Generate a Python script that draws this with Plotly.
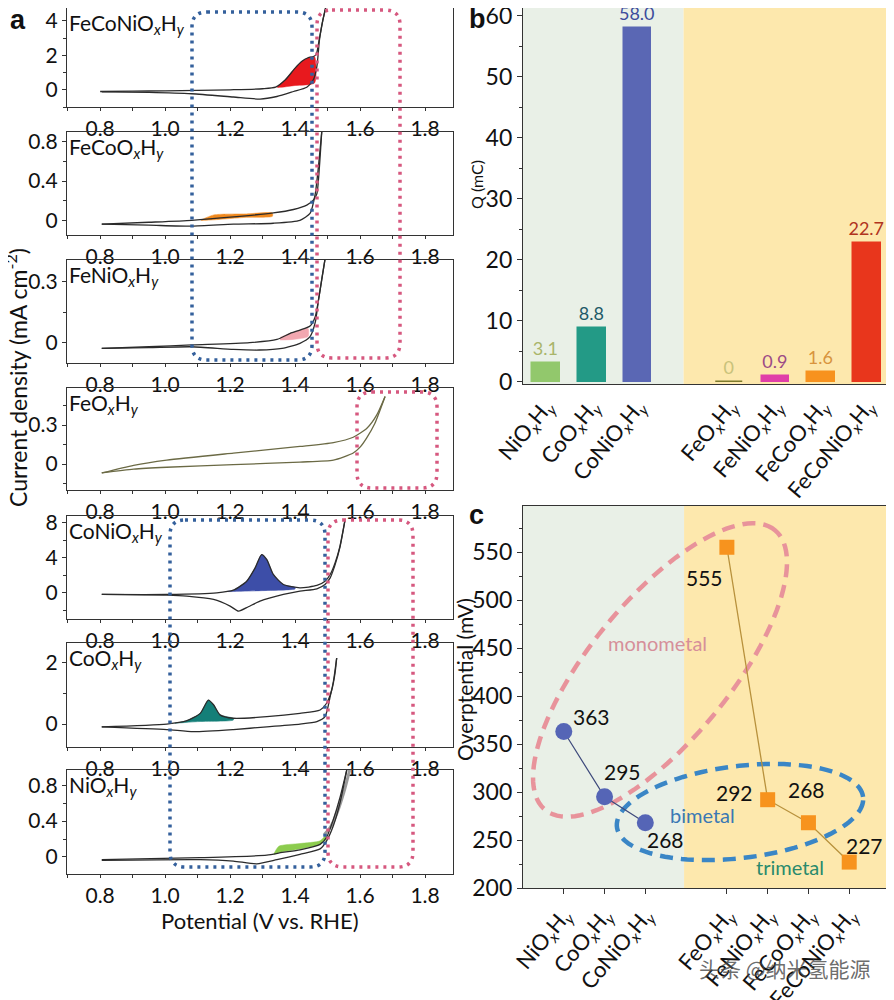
import numpy as np
import plotly.graph_objects as go

# the page adds an 8px body margin; the figure is sized so it fills the rest of the 894x1000 window
OFF = 8
W, H = 894 - OFF, 1000 - OFF
FONT = "Lato"

# ---------------- Panel a data (potential V vs RHE, current mA cm-2) ----------------
FECONI_E_AN = [0.80, 0.90, 1.00, 1.10, 1.20, 1.30, 1.34, 1.37, 1.40, 1.42, 1.44, 1.455, 1.465, 1.475, 1.485, 1.497]
FECONI_J_AN = [-0.10, -0.08, -0.06, -0.04, 0.00, 0.06, 0.15, 0.58, 1.26, 1.64, 1.86, 1.92, 2.05, 3.0, 4.0, 5.0]
FECONI_E_CA = [1.497, 1.485, 1.475, 1.467, 1.456, 1.436, 1.395, 1.344, 1.292, 1.21, 1.082, 0.95, 0.805]
FECONI_J_CA = [5.0, 4.0, 2.9, 1.35, 0.58, 0.15, -0.10, -0.39, -0.54, -0.42, -0.23, -0.15, -0.12]
FECONI_E_FILL = [1.345, 1.37, 1.40, 1.42, 1.44, 1.46, 1.46, 1.40, 1.345]
FECONI_J_FILL = [0.15, 0.58, 1.26, 1.64, 1.86, 1.92, 0.40, 0.25, 0.15]

FECO_E_AN = [0.805, 0.95, 1.082, 1.21, 1.333, 1.395, 1.436, 1.456, 1.467, 1.475, 1.482]
FECO_J_AN = [-0.04, -0.02, 0.0, 0.034, 0.075, 0.11, 0.154, 0.205, 0.27, 0.55, 0.90]
FECO_E_CA = [1.482, 1.472, 1.462, 1.446, 1.415, 1.333, 1.21, 1.082, 0.95, 0.805]
FECO_J_CA = [0.90, 0.55, 0.27, 0.07, 0.0, -0.03, -0.04, -0.06, -0.05, -0.04]
FECO_E_FILL = [1.11, 1.15, 1.25, 1.33, 1.33, 1.25, 1.15, 1.11]
FECO_J_FILL = [0.0, 0.055, 0.065, 0.075, 0.04, 0.03, 0.005, 0.0]

FENI_E_AN = [0.805, 0.95, 1.082, 1.26, 1.344, 1.385, 1.415, 1.446, 1.462, 1.472, 1.482, 1.492]
FENI_J_AN = [-0.028, -0.02, -0.011, 0.0, 0.016, 0.046, 0.062, 0.082, 0.128, 0.21, 0.31, 0.41]
FENI_E_CA = [1.492, 1.482, 1.472, 1.462, 1.446, 1.415, 1.36, 1.29, 1.21, 1.082, 0.95, 0.805]
FENI_J_CA = [0.41, 0.31, 0.21, 0.10, 0.03, -0.003, -0.028, -0.036, -0.033, -0.02, -0.024, -0.028]
FENI_E_FILL = [1.354, 1.385, 1.415, 1.44, 1.44, 1.395, 1.354]
FENI_J_FILL = [0.026, 0.046, 0.062, 0.07, 0.03, 0.016, 0.013]

FE_E_UP = [0.805, 0.903, 1.005, 1.21, 1.415, 1.518, 1.579, 1.621, 1.651, 1.677]
FE_J_UP = [-0.069, -0.01, 0.03, 0.084, 0.135, 0.165, 0.206, 0.275, 0.376, 0.52]
FE_E_LO = [0.805, 0.903, 1.005, 1.21, 1.415, 1.518, 1.579, 1.60, 1.62, 1.645, 1.677]
FE_J_LO = [-0.069, -0.04, -0.025, -0.005, 0.015, 0.03, 0.085, 0.13, 0.20, 0.31, 0.52]

CONI_E_AN = [0.805, 1.005, 1.159, 1.21, 1.251, 1.277, 1.297, 1.313, 1.333, 1.364, 1.415, 1.467, 1.492, 1.508, 1.523, 1.538, 1.554]
CONI_J_AN = [-0.19, -0.19, 0.0, 0.3, 1.33, 2.86, 4.38, 3.81, 2.1, 0.95, 0.57, 0.84, 1.33, 2.1, 3.43, 5.33, 8.4]
CONI_E_CA = [1.554, 1.538, 1.523, 1.508, 1.492, 1.467, 1.415, 1.364, 1.292, 1.256, 1.226, 1.20, 1.149, 1.067, 1.005, 0.805]
CONI_J_CA = [8.4, 5.2, 3.2, 1.71, 0.95, 0.46, 0.19, -0.19, -0.95, -1.6, -2.1, -1.52, -0.76, -0.38, -0.27, -0.19]
CONI_E_FILL = [1.19, 1.21, 1.251, 1.277, 1.297, 1.313, 1.333, 1.364, 1.40, 1.40, 1.30, 1.19]
CONI_J_FILL = [0.15, 0.3, 1.33, 2.86, 4.38, 3.81, 2.1, 0.95, 0.62, 0.45, 0.25, 0.15]

CO_E_AN = [0.805, 1.005, 1.067, 1.108, 1.133, 1.149, 1.169, 1.21, 1.313, 1.415, 1.477, 1.497, 1.513, 1.523, 1.528]
CO_J_AN = [-0.09, 0.0, 0.11, 0.35, 0.78, 0.63, 0.30, 0.19, 0.24, 0.35, 0.46, 0.68, 1.12, 1.67, 2.16]
CO_E_CA = [1.528, 1.518, 1.508, 1.492, 1.467, 1.415, 1.313, 1.21, 1.087, 1.005, 0.805]
CO_J_CA = [2.16, 1.4, 0.9, 0.24, 0.08, 0.0, -0.09, -0.18, -0.25, -0.18, -0.09]
CO_E_FILL = [1.03, 1.067, 1.108, 1.133, 1.149, 1.169, 1.21, 1.21, 1.10, 1.03]
CO_J_FILL = [0.03, 0.11, 0.35, 0.78, 0.63, 0.30, 0.19, 0.13, 0.08, 0.03]

NI_E_AN = [0.805, 1.108, 1.313, 1.36, 1.415, 1.477, 1.497, 1.518, 1.538, 1.559]
NI_J_AN = [-0.03, -0.008, 0.02, 0.05, 0.08, 0.14, 0.22, 0.42, 0.66, 0.97]
NI_E_CA = [1.559, 1.538, 1.518, 1.497, 1.477, 1.415, 1.344, 1.282, 1.21, 1.108, 0.805]
NI_J_CA = [0.97, 0.6, 0.35, 0.18, 0.09, 0.03, -0.03, -0.076, -0.046, -0.03, -0.038]
NI_E_FILL = [1.335, 1.35, 1.415, 1.477, 1.497, 1.497, 1.477, 1.415, 1.35, 1.335]
NI_J_FILL = [0.03, 0.12, 0.15, 0.18, 0.25, 0.20, 0.14, 0.09, 0.05, 0.03]
NI_E_GRAY = [1.49, 1.51, 1.53, 1.55, 1.568]
NI_J_GRAY = [0.25, 0.34, 0.5, 0.72, 0.97]

A_NAMES = ["FeCoNiO<sub><i>x</i></sub>H<sub><i>y</i></sub>", "FeCoO<sub><i>x</i></sub>H<sub><i>y</i></sub>",
           "FeNiO<sub><i>x</i></sub>H<sub><i>y</i></sub>", "FeO<sub><i>x</i></sub>H<sub><i>y</i></sub>",
           "CoNiO<sub><i>x</i></sub>H<sub><i>y</i></sub>", "CoO<sub><i>x</i></sub>H<sub><i>y</i></sub>",
           "NiO<sub><i>x</i></sub>H<sub><i>y</i></sub>"]
A_YRANGES = [[-1.0, 4.75], [-0.15, 0.9], [-0.1, 0.407], [-0.2, 0.585], [-3.0, 8.8], [-0.75, 2.65], [-0.19, 0.97]]
A_YTICKS = [[0, 2, 4], [0, 0.4, 0.8], [0, 0.3], [0, 0.3], [0, 4, 8], [0, 2], [0, 0.4, 0.8]]
A_YMINOR = [1, 0.2, 0.15, 0.15, 2, 1, 0.2]
A_XTICKS = [0.8, 1.0, 1.2, 1.4, 1.6, 1.8]

# ---------------- Panel b data ----------------
CATS = ["NiO<sub><i>x</i></sub>H<sub><i>y</i></sub>", "CoO<sub><i>x</i></sub>H<sub><i>y</i></sub>",
        "CoNiO<sub><i>x</i></sub>H<sub><i>y</i></sub>", "FeO<sub><i>x</i></sub>H<sub><i>y</i></sub>",
        "FeNiO<sub><i>x</i></sub>H<sub><i>y</i></sub>", "FeCoO<sub><i>x</i></sub>H<sub><i>y</i></sub>",
        "FeCoNiO<sub><i>x</i></sub>H<sub><i>y</i></sub>"]
CAT_POS = [1, 2, 3, 5, 6, 7, 8]
Q_VALUES = [3.1, 8.8, 58.0, 0.0, 0.9, 1.6, 22.7]
Q_LABELS = ["3.1", "8.8", "58.0", "0", "0.9", "1.6", "22.7"]

# ---------------- Panel c data ----------------
ETA_MONO_BI = [363, 295, 268]          # NiOxHy, CoOxHy, CoNiOxHy
ETA_FE = [555, 292, 268, 227]          # FeOxHy, FeNiOxHy, FeCoOxHy, FeCoNiOxHy

# ---------------- styles ----------------
BAR_COLORS = ["#92c86c", "#239a86", "#5a67b4", "#7d7a2c", "#e03fa8", "#f7921e", "#e8361c"]
BAR_TEXT_COLORS = ["#a9b56a", "#1e5a68", "#3c4c9c", "#c9c27a", "#9c4a86", "#d8943e", "#b0341e"]
FILL_COLORS = ["#e8191e", "#f0891e", "#f2a7b0", None, "#3d4ea8", "#147f78", "#8ccc4e"]
LABEL_OFFSETS_C = [(28, 15), (18, 25), (20, -17), (-22, -30), (-33, 7), (-2, 33), (15, 17)]

A_TOPS = [8, 132, 260, 388, 516, 643, 770]
A_BOTTOMS = [107, 235, 363, 490, 619, 747, 874]
A_X0, A_X1 = 67, 453


def px(x):
    return (x - OFF) / W


def py(y):
    return min(1.0, max(0.0, 1 - (y - OFF) / H))


fig = go.Figure()

curves = [
    (FECONI_E_AN, FECONI_J_AN, FECONI_E_CA, FECONI_J_CA, FECONI_E_FILL, FECONI_J_FILL),
    (FECO_E_AN, FECO_J_AN, FECO_E_CA, FECO_J_CA, FECO_E_FILL, FECO_J_FILL),
    (FENI_E_AN, FENI_J_AN, FENI_E_CA, FENI_J_CA, FENI_E_FILL, FENI_J_FILL),
    (FE_E_UP, FE_J_UP, FE_E_LO, FE_J_LO, None, None),
    (CONI_E_AN, CONI_J_AN, CONI_E_CA, CONI_J_CA, CONI_E_FILL, CONI_J_FILL),
    (CO_E_AN, CO_J_AN, CO_E_CA, CO_J_CA, CO_E_FILL, CO_J_FILL),
    (NI_E_AN, NI_J_AN, NI_E_CA, NI_J_CA, NI_E_FILL, NI_J_FILL),
]

axis_common = dict(showline=True, linecolor="#333", linewidth=1.2, mirror=True, ticks="outside",
                   ticklen=4, tickcolor="#333", showgrid=False, zeroline=False, automargin=False,
                   ticklabeloverflow="allow",
                   tickfont=dict(family=FONT, size=21, color="#111"))

layout_axes = {}
annotations = []
for i, (ea, ja, ec, jc, ef, jf) in enumerate(curves):
    n = i + 1
    xa = "x" if n == 1 else f"x{n}"
    ya = "y" if n == 1 else f"y{n}"
    line_col = "#6b6a45" if i == 3 else "#2b2b2b"
    if ef is not None:
        fig.add_trace(go.Scatter(x=ef, y=jf, mode="lines", fill="toself", fillcolor=FILL_COLORS[i],
                                 line=dict(width=0.5, color=FILL_COLORS[i], shape="spline", smoothing=0.6),
                                 xaxis=xa, yaxis=ya, showlegend=False, hoverinfo="skip"))
    if i == 6:
        fig.add_trace(go.Scatter(x=NI_E_GRAY, y=NI_J_GRAY, mode="lines",
                                 line=dict(width=3, color="#9a9a9a", shape="spline"),
                                 xaxis=xa, yaxis=ya, showlegend=False))
    for ex, jy in ((ea, ja), (ec, jc)):
        fig.add_trace(go.Scatter(x=ex, y=jy, mode="lines",
                                 line=dict(width=1.3, color=line_col, shape="spline", smoothing=0.6),
                                 xaxis=xa, yaxis=ya, showlegend=False))
    key_x = "xaxis" if n == 1 else f"xaxis{n}"
    key_y = "yaxis" if n == 1 else f"yaxis{n}"
    layout_axes[key_x] = dict(axis_common, domain=[px(A_X0), px(A_X1)], anchor=ya, range=[0.698, 1.886],
                              tickvals=A_XTICKS, ticktext=[f"{v:.1f}" for v in A_XTICKS], ticklen=3,
                              minor=dict(dtick=0.1, tick0=0.8, ticks="outside", ticklen=3, tickcolor="#333"))
    layout_axes[key_y] = dict(axis_common, domain=[py(A_BOTTOMS[i]), py(A_TOPS[i])], anchor=xa,
                              range=A_YRANGES[i], tickvals=A_YTICKS[i],
                              ticktext=[("0" if v == 0 else (f"{v:g}")) for v in A_YTICKS[i]],
                              minor=dict(dtick=A_YMINOR[i], tick0=0, ticks="outside", ticklen=2.5, tickcolor="#333"))
    annotations.append(dict(text=A_NAMES[i], xref=f"{xa} domain", yref=f"{ya} domain", x=0.0, y=1.0,
                            xanchor="left", yanchor="top", showarrow=False,
                            font=dict(family=FONT, size=21, color="#111")))

# ---------------- Panel b ----------------
fig.add_trace(go.Bar(x=CAT_POS, y=Q_VALUES, width=0.6, marker=dict(color=BAR_COLORS, line=dict(color=BAR_COLORS, width=1.5)),
                     text=Q_LABELS, textposition="outside", textangle=0, constraintext="none",
                     textfont=dict(family=FONT, size=18, color=BAR_TEXT_COLORS), cliponaxis=False,
                     xaxis="x8", yaxis="y8", showlegend=False))

layout_axes["xaxis8"] = dict(axis_common, domain=[px(523), px(890)], anchor="y8", range=[0.5, 8.5],
                             tickvals=CAT_POS, ticktext=CATS, tickangle=-50, ticks="",
                             tickfont=dict(family=FONT, size=22, color="#111"))
layout_axes["yaxis8"] = dict(axis_common, domain=[py(384), py(8)], anchor="x8", range=[-0.35, 61.3],
                             tickvals=[0, 10, 20, 30, 40, 50, 60], ticklen=5,
                             minor=dict(dtick=5, tick0=0, ticks="outside", ticklen=3, tickcolor="#333"),
                             tickfont=dict(family=FONT, size=23, color="#111"))

# ---------------- Panel c ----------------
fig.add_trace(go.Scatter(x=CAT_POS[:3], y=ETA_MONO_BI, mode="lines+markers",
                         line=dict(color="#3e4a7c", width=1.2),
                         marker=dict(symbol="circle", size=17, color="#5565b6", line=dict(width=0)),
                         xaxis="x9", yaxis="y9", showlegend=False, cliponaxis=False))
fig.add_trace(go.Scatter(x=CAT_POS[3:], y=ETA_FE, mode="lines+markers",
                         line=dict(color="#b8913c", width=1.3),
                         marker=dict(symbol="square", size=15, color="#f7931e", line=dict(width=0)),
                         xaxis="x9", yaxis="y9", showlegend=False, cliponaxis=False))

layout_axes["xaxis9"] = dict(axis_common, domain=[px(523), px(890)], anchor="y9", range=[0, 9],
                             tickvals=CAT_POS, ticktext=CATS, tickangle=-50, ticklen=5,
                             tickfont=dict(family=FONT, size=22, color="#111"))
layout_axes["yaxis9"] = dict(axis_common, domain=[py(888), py(506)], anchor="x9", range=[200, 598],
                             tickvals=[200, 250, 300, 350, 400, 450, 500, 550], ticklen=5,
                             minor=dict(dtick=25, tick0=200, ticks="outside", ticklen=3, tickcolor="#333"),
                             tickfont=dict(family=FONT, size=23, color="#111"))

all_eta = ETA_MONO_BI + ETA_FE
for k, (xv, yv) in enumerate(zip(CAT_POS, all_eta)):
    dx, dy = LABEL_OFFSETS_C[k]
    annotations.append(dict(text=str(yv), x=xv, y=yv, xref="x9", yref="y9", xshift=dx, yshift=dy,
                            showarrow=False, font=dict(family=FONT, size=21, color="#111")))

# ---------------- shapes ----------------
shapes = []
for xr, yr, split, lo, hi in (("x8", "y8", 4.0, 0.5, 8.5), ("x9", "y9", 3.95, 0, 9)):
    shapes.append(dict(type="rect", xref=xr, yref=f"{yr} domain", x0=lo, x1=split, y0=0, y1=1,
                       fillcolor="#e9f0e7", line=dict(width=0), layer="below"))
    shapes.append(dict(type="rect", xref=xr, yref=f"{yr} domain", x0=split, x1=hi, y0=0, y1=1,
                       fillcolor="#fde8ad", line=dict(width=0), layer="below"))


def rrect_path(x0, y0, x1, y1, r):
    X = lambda v: f"{px(v):.5f}"
    Y = lambda v: f"{py(v):.5f}"
    return (f"M {X(x0 + r)},{Y(y0)} L {X(x1 - r)},{Y(y0)} Q {X(x1)},{Y(y0)} {X(x1)},{Y(y0 + r)} "
            f"L {X(x1)},{Y(y1 - r)} Q {X(x1)},{Y(y1)} {X(x1 - r)},{Y(y1)} "
            f"L {X(x0 + r)},{Y(y1)} Q {X(x0)},{Y(y1)} {X(x0)},{Y(y1 - r)} "
            f"L {X(x0)},{Y(y0 + r)} Q {X(x0)},{Y(y0)} {X(x0 + r)},{Y(y0)} Z")


BLUE_DOT = "#34609c"
PINK_DOT = "#d6587f"
boxes = [((192, 12, 312, 360), BLUE_DOT), ((317, 10, 400, 358), PINK_DOT), ((357, 392, 437, 488), PINK_DOT),
         ((170, 520, 325, 867), BLUE_DOT), ((328, 520, 413, 867), PINK_DOT)]
for (x0, y0, x1, y1), col in boxes:
    shapes.append(dict(type="path", xref="paper", yref="paper", path=rrect_path(x0, y0, x1, y1, 15),
                       line=dict(color=col, width=3.5, dash="3px,5px"), layer="above"))


def ellipse_path(cx, cy, a, b, ang_deg, n=120):
    t = np.linspace(0, 2 * np.pi, n)
    th = np.deg2rad(ang_deg)
    xs = cx + a * np.cos(t) * np.cos(th) - b * np.sin(t) * np.sin(th)
    ys = cy - (a * np.cos(t) * np.sin(th) + b * np.sin(t) * np.cos(th))
    pts = [f"{px(x):.5f},{py(y):.5f}" for x, y in zip(xs, ys)]
    return "M " + " L ".join(pts) + " Z"


shapes.append(dict(type="path", xref="paper", yref="paper", path=ellipse_path(660, 670, 181, 70, 50.6),
                   line=dict(color="#e8939b", width=4.5, dash="13px,8px"), layer="below"))
shapes.append(dict(type="path", xref="paper", yref="paper", path=ellipse_path(740, 812, 124, 46, 7),
                   line=dict(color="#3a86c6", width=4.5, dash="13px,8px"), layer="below"))


def txt(text, x, y, size, color="#111", angle=0, bold=False, family=FONT, xanchor="center"):
    annotations.append(dict(text=f"<b>{text}</b>" if bold else text, xref="paper", yref="paper",
                            x=px(x), y=py(y), xanchor=xanchor, yanchor="middle", showarrow=False,
                            textangle=angle, font=dict(family=family, size=size, color=color)))


txt("a", 18, 20, 27, bold=True, family="Liberation Sans")
txt("b", 477, 19, 27, bold=True, family="Liberation Sans")
txt("c", 476, 515, 27, bold=True, family="Liberation Sans")
txt("Current density (mA cm<sup>-2</sup>)", 16, 378, 23, angle=-90)
txt("Potential (V vs. RHE)", 260, 920, 22)
txt("Q (mC)", 476, 185, 16, angle=-90)
txt("Overptential (mV)", 464, 680, 21, angle=-90)
txt("monometal", 657, 643, 20, color="#d68f9a")
txt("bimetal", 702, 815, 20, color="#3a78b4")
txt("trimetal", 790, 867, 20, color="#2a8a6c")
txt("头条 @纳米氢能源", 785, 968, 21, color="rgba(70,70,70,0.8)", family="Noto Sans CJK SC")

fig.update_layout(width=W, height=H, margin=dict(l=0, r=0, t=0, b=0, autoexpand=False), paper_bgcolor="white",
                  plot_bgcolor="rgba(0,0,0,0)", shapes=shapes, annotations=annotations, bargap=0,
                  font=dict(family=FONT), **layout_axes)

fig.write_html("out.html")
